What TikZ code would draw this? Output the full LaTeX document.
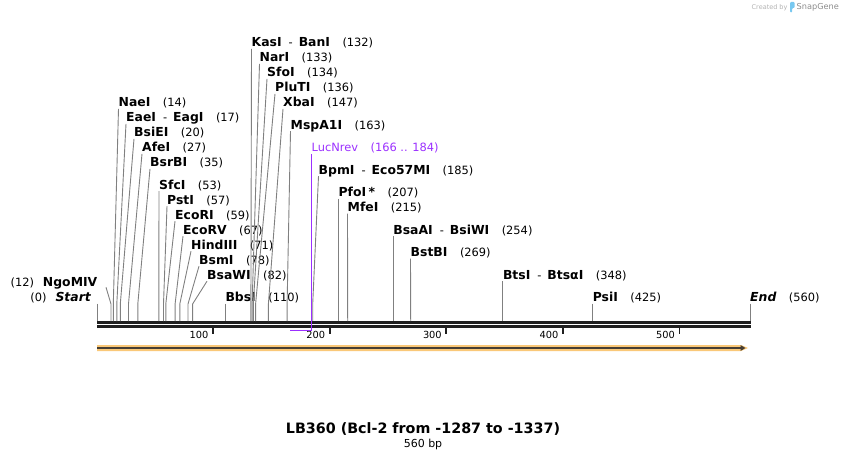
\documentclass[tikz,border=0pt]{standalone}
\usepackage{fontspec}
\setmainfont{DejaVu Sans}
\usetikzlibrary{positioning,arrows.meta}

\definecolor{cutgray}{RGB}{128,128,128}
\definecolor{lucpurple}{RGB}{155,48,255}
\definecolor{featorange}{RGB}{250,200,120}
\definecolor{featdark}{RGB}{70,62,52}
\definecolor{snapblue}{RGB}{120,200,240}

\newcommand{\enz}[1]{{\fontsize{12.4}{14}\selectfont\bfseries #1}}
\newcommand{\pair}[2]{\enz{#1}\hspace{7pt}-\hspace{6pt}\enz{#2}}
\newcommand{\gap}{\hspace{12.5pt}}

\tikzset{
  enzlabel/.style={anchor=base west, inner sep=0pt, text depth=2pt, font=\fontsize{11.4}{14}\selectfont},
  siteline/.style={draw=cutgray, line width=0.9pt},
  rulerline/.style={draw=black!88, line width=2.6pt},
  scaletick/.style={draw=black!88, line width=1.8pt},
  ticklbl/.style={anchor=base east, inner sep=0pt, font=\fontsize{9.8}{11}\selectfont},
  primerline/.style={draw=lucpurple, line width=1.6pt},
}

\begin{document}
\begin{tikzpicture}[x=1pt, y=-1pt]
\useasboundingbox (0,0) rectangle (848,460);

% cut sites on the top of the ruler
\coordinate (bend) at (0,304);
\coordinate (s0) at (97,321);
\coordinate (s12) at (111.0,321);
\coordinate (s14) at (113.3,321);
\coordinate (s17) at (116.8,321);
\coordinate (s20) at (120.3,321);
\coordinate (s27) at (128.5,321);
\coordinate (s35) at (137.8,321);
\coordinate (s53) at (158.8,321);
\coordinate (s57) at (163.5,321);
\coordinate (s59) at (165.8,321);
\coordinate (s67) at (175.1,321);
\coordinate (s71) at (179.8,321);
\coordinate (s78) at (188.0,321);
\coordinate (s82) at (192.6,321);
\coordinate (s110) at (225.3,321);
\coordinate (s132) at (250.9,321);
\coordinate (s133) at (252.1,321);
\coordinate (s134) at (253.3,321);
\coordinate (s136) at (255.6,321);
\coordinate (s147) at (268.4,321);
\coordinate (s163) at (287.1,321);
\coordinate (s185) at (312.7,321);
\coordinate (s207) at (338.4,321);
\coordinate (s215) at (347.7,321);
\coordinate (s254) at (393.2,321);
\coordinate (s269) at (410.7,321);
\coordinate (s348) at (502.8,321);
\coordinate (s425) at (592.6,321);
\coordinate (s560) at (750.0,321);

% sequence ruler
\draw[rulerline] (97,322.3) -- (751,322.3);
\draw[rulerline] (97,326.2) -- (751,326.2);
\draw[scaletick] (212.9,327.4) -- (212.9,333.7);
\draw[scaletick] (329.6,327.4) -- (329.6,333.7);
\draw[scaletick] (446.2,327.4) -- (446.2,333.7);
\draw[scaletick] (562.8,327.4) -- (562.8,333.7);
\draw[scaletick] (679.4,327.4) -- (679.4,333.7);
\node[ticklbl] (t100) at (208.6,338) {100};
\node[ticklbl] (t200) at (325.3,338) {200};
\node[ticklbl] (t300) at (441.9,338) {300};
\node[ticklbl] (t400) at (558.5,338) {400};
\node[ticklbl] (t500) at (675.1,338) {500};

% feature arrow
\fill[featorange] (97,345) -- (741,345) -- (748,348) -- (741,351) -- (97,351) -- cycle;
\draw[featdark, line width=1.8pt, -{Triangle[length=5pt,width=5.5pt]}] (97,348) -- (745.5,348);

% enzyme labels, left group
\node[enzlabel, anchor=base east] (start) at (91,301.5) {(0)\hspace{9pt}\enz{\itshape Start}};
\node[enzlabel, anchor=base east] (ngomiv) at (97.5,286.6) {(12)\hspace{9pt}\enz{NgoMIV}};
\node[enzlabel] (naei) at (118.5,106.6) {\enz{NaeI}\gap(14)};
\node[enzlabel] (eaei) at (126,121.6) {\pair{EaeI}{EagI}\gap(17)};
\node[enzlabel] (bsiei) at (134,136.6) {\enz{BsiEI}\gap(20)};
\node[enzlabel] (afei) at (142,151.6) {\enz{AfeI}\gap(27)};
\node[enzlabel] (bsrbi) at (150,166.6) {\enz{BsrBI}\gap(35)};
\node[enzlabel] (sfci) at (159,189) {\enz{SfcI}\gap(53)};
\node[enzlabel] (psti) at (167,204) {\enz{PstI}\gap(57)};
\node[enzlabel] (ecori) at (175,219) {\enz{EcoRI}\gap(59)};
\node[enzlabel] (ecorv) at (183,234) {\enz{EcoRV}\gap(67)};
\node[enzlabel] (hindiii) at (191,249) {\enz{HindIII}\gap(71)};
\node[enzlabel] (bsmi) at (199,264) {\enz{BsmI}\gap(78)};
\node[enzlabel] (bsawi) at (207,279) {\enz{BsaWI}\gap(82)};
\node[enzlabel] (bbsi) at (225.3,301.5) {\enz{BbsI}\gap(110)};

% enzyme labels, right group
\node[enzlabel] (kasi) at (251.5,46.6) {\pair{KasI}{BanI}\gap(132)};
\node[enzlabel] (nari) at (259.5,61.6) {\enz{NarI}\gap(133)};
\node[enzlabel] (sfoi) at (267,76.6) {\enz{SfoI}\gap(134)};
\node[enzlabel] (pluti) at (275,91.6) {\enz{PluTI}\gap(136)};
\node[enzlabel] (xbai) at (283,106.6) {\enz{XbaI}\gap(147)};
\node[enzlabel] (mspa1i) at (290.5,129) {\enz{MspA1I}\gap(163)};
\node[enzlabel, text=lucpurple] (lucnrev) at (311.5,151.6) {LucNrev\gap(166 .. 184)};
\node[enzlabel] (bpmi) at (318.5,174) {\pair{BpmI}{Eco57MI}\gap(185)};
\node[enzlabel] (pfoi) at (338.4,196.5) {\enz{PfoI\hspace{2.5pt}*}\gap(207)};
\node[enzlabel] (mfei) at (347.5,211.5) {\enz{MfeI}\gap(215)};
\node[enzlabel] (bsaai) at (393.2,234) {\pair{BsaAI}{BsiWI}\gap(254)};
\node[enzlabel] (bstbi) at (410.5,256.5) {\enz{BstBI}\gap(269)};
\node[enzlabel] (btsi) at (502.8,279) {\pair{BtsI}{BtsαI}\gap(348)};
\node[enzlabel] (psii) at (592.6,301.5) {\enz{PsiI}\gap(425)};
\node[enzlabel] (endlbl) at (750,301.5) {\enz{\itshape End}\gap(560)};

% lines from the labels to the sites
\draw[siteline] (s0 |- start.south) -- (s0);
\draw[siteline] ([xshift=8.5pt,yshift=1.5pt]ngomiv.south east) -- (s12 |- bend) -- (s12);
\draw[siteline] (naei.south west) -- (s14 |- bend) -- (s14);
\draw[siteline] (eaei.south west) -- (s17 |- bend) -- (s17);
\draw[siteline] (bsiei.south west) -- (s20 |- bend) -- (s20);
\draw[siteline] (afei.south west) -- (s27 |- bend) -- (s27);
\draw[siteline] (bsrbi.south west) -- (s35 |- bend) -- (s35);
\draw[siteline] (sfci.south west) -- (s53 |- bend) -- (s53);
\draw[siteline] (psti.south west) -- (s57 |- bend) -- (s57);
\draw[siteline] (ecori.south west) -- (s59 |- bend) -- (s59);
\draw[siteline] (ecorv.south west) -- (s67 |- bend) -- (s67);
\draw[siteline] (hindiii.south west) -- (s71 |- bend) -- (s71);
\draw[siteline] (bsmi.south west) -- (s78 |- bend) -- (s78);
\draw[siteline] (bsawi.south west) -- (s82 |- bend) -- (s82);
\draw[siteline] (bbsi.south west) -- (s110);
\draw[siteline] (kasi.south west) -- (s132 |- bend) -- (s132);
\draw[siteline] (nari.south west) -- (s133 |- bend) -- (s133);
\draw[siteline] (sfoi.south west) -- (s134 |- bend) -- (s134);
\draw[siteline] (pluti.south west) -- (s136 |- bend) -- (s136);
\draw[siteline] (xbai.south west) -- (s147 |- bend) -- (s147);
\draw[siteline] (mspa1i.south west) -- (s163 |- bend) -- (s163);
\draw[siteline] (bpmi.south west) -- (s185 |- bend) -- (s185);
\draw[siteline] (pfoi.south west) -- (s207);
\draw[siteline] (mfei.south west) -- (s215);
\draw[siteline] (bsaai.south west) -- (s254);
\draw[siteline] (bstbi.south west) -- (s269);
\draw[siteline] (btsi.south west) -- (s348);
\draw[siteline] (psii.south west) -- (s425);
\draw[siteline] (endlbl.south west) -- (s560);

% primer
\coordinate (p166) at (290.2,330.3);
\coordinate (p184) at (311.5,330.3);
\draw[primerline] (lucnrev.south west) -- (p184) -- (p166);

% title
\node[font=\fontsize{14.3}{17}\selectfont\bfseries] (title) at (423,429.5) {LB360 (Bcl-2 from -1287 to -1337)};
\node[font=\fontsize{11}{13}\selectfont] (bplen) at (423,444) {560 bp};

% watermark
\node[anchor=base west, inner sep=0pt, font=\fontsize{6.5}{8}\selectfont, text=black!30] (createdby) at (751.5,9.5) {Created by};
\fill[snapblue, rounded corners=1pt] (790,2) -- (794.5,2) -- (794.5,8) -- (792,8) -- (792,12.5) -- (790,12.5) -- cycle;
\node[anchor=base west, inner sep=0pt, font=\fontsize{8.2}{10}\selectfont, text=black!45] (snapgene) at (796.5,10) {SnapGene};
\end{tikzpicture}
\end{document}
